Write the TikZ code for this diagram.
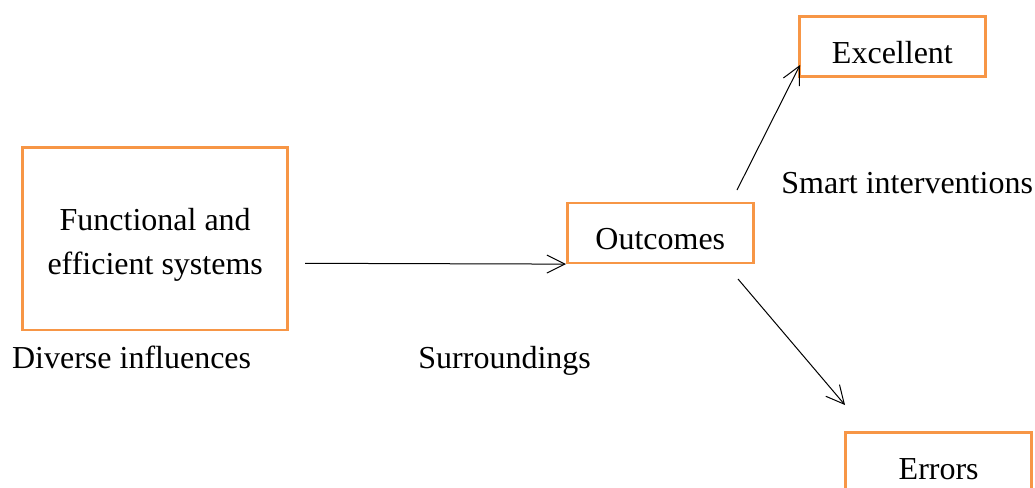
\documentclass[tikz,border=0pt]{standalone}
\usepackage{fontspec}
\setmainfont{Liberation Serif}
\usetikzlibrary{arrows.meta}
\definecolor{boxorange}{HTML}{F79646}

\begin{document}
\begin{tikzpicture}[x=0.5pt,y=-0.5pt]
				\tikzstyle{every node}=[font=\fontsize{16}{22}\selectfont]
				\tikzstyle{frame}=[draw=boxorange,line width=1.3pt,inner sep=0pt]
				\tikzstyle{box}=[frame,text height=17pt,text depth=0pt,
				minimum width=93pt,minimum height=30pt]
				\tikzstyle{tag}=[anchor=base west,inner sep=0pt]
				\tikzstyle{arr}=[line width=0.5pt,-{Straight Barb[length=9pt,width=9pt]}]
				\useasboundingbox (0,0) rectangle (1035,488);
				\node[frame,align=center,minimum width=132.5pt,minimum height=91.4pt]
					(systems) at (155.2,238.6) {\rule{0pt}{17pt}Functional and\\efficient systems};
				\node[box] (outcomes) at (660.3,232.8) {Outcomes};
				\node[box] (excellent) at (892.4,46.7) {Excellent};
				\node[box] (errors) at (938.7,462.3) {Errors};
				\node[tag] (smart) at (781,193.3) {Smart interventions};
				\node[tag] (diverse) at (11.7,368.3) {Diverse influences};
				\node[tag] (surround) at (418,368) {Surroundings};
				\coordinate (sysout) at (305,263.3);
				\coordinate (upfrom) at (737,190);
				\coordinate (upto) at (800,65);
				\coordinate (downfrom) at (738,279);
				\coordinate (downto) at (845,405);
				\draw[arr] (sysout) -- (outcomes.south west);
				\draw[arr] (upfrom) -- (upto);
				\draw[arr] (downfrom) -- (downto);
\end{tikzpicture}
\end{document}
